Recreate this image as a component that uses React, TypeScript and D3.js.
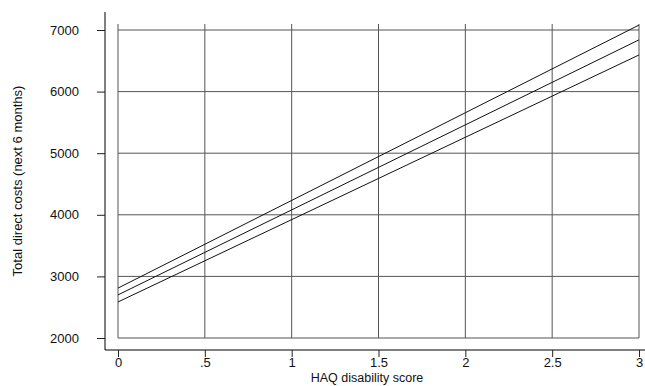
import { useEffect, useRef } from 'react';
import * as d3 from 'd3';

const xTicks = [0, 0.5, 1, 1.5, 2, 2.5, 3];
const xTickLabels = ["0", ".5", "1", "1.5", "2", "2.5", "3"];
const yTicks = [2000, 3000, 4000, 5000, 6000, 7000];

// fitted line and its confidence band at HAQ 0 and 3
const haq = [0, 3];
const upperBand = [2810, 7080];
const fitted = [2700, 6840];
const lowerBand = [2585, 6595];

export default function App() {
    const svgRef = useRef<SVGSVGElement>(null);

    useEffect(() => {
        const width = 645;
        const height = 386;
        const svg = d3.select(svgRef.current);
        svg.selectAll("*").remove();
        svg.attr("width", width).attr("height", height);

        const xScale = d3.scaleLinear().domain([0, 3]).range([118, 639]);
        const yScale = d3.scaleLinear().domain([2000, 7000]).range([338, 30]);
        const font = "'Liberation Sans', Arial, sans-serif";
        const gridColor = "#555";

        // Grid vertical
        svg.append("g")
            .selectAll("line")
            .data(xTicks)
            .enter().append("line")
            .attr("x1", d => xScale(d))
            .attr("x2", d => xScale(d))
            .attr("y1", 24)
            .attr("y2", yScale(2000))
            .attr("stroke", gridColor)
            .attr("stroke-width", 1);

        // Grid horizontal
        svg.append("g")
            .selectAll("line")
            .data(yTicks)
            .enter().append("line")
            .attr("x1", xScale(0))
            .attr("x2", xScale(3))
            .attr("y1", d => yScale(d))
            .attr("y2", d => yScale(d))
            .attr("stroke", gridColor)
            .attr("stroke-width", 1);

        // Linhas
        const series = [upperBand, fitted, lowerBand];
        const line = d3.line<number>()
            .x((_, i) => xScale(haq[i]))
            .y(d => yScale(d));
        svg.append("g")
            .selectAll("path")
            .data(series)
            .enter().append("path")
            .attr("fill", "none")
            .attr("stroke", "#111")
            .attr("stroke-width", 1)
            .attr("d", d => line(d));

        // Eixo Y
        const yAxis = svg.append("g")
            .attr("transform", "translate(105,0)")
            .call(d3.axisLeft(yScale).tickValues(yTicks).tickSize(8).tickPadding(18).tickFormat(d3.format("d")));
        yAxis.select(".domain").attr("d", "M0,12V350");
        yAxis.selectAll("line").attr("stroke", "#222");
        yAxis.selectAll("text")
            .style("font-family", font)
            .style("font-size", "13px")
            .style("fill", "#111");

        // Eixo X
        const xAxis = svg.append("g")
            .attr("transform", "translate(0,350)")
            .call(d3.axisBottom(xScale).tickValues(xTicks).tickSize(7).tickPadding(1)
                .tickFormat((_, i) => xTickLabels[i]));
        xAxis.select(".domain").attr("d", "M105,0H645");
        xAxis.selectAll("line").attr("stroke", "#222");
        xAxis.selectAll("text")
            .style("font-family", font)
            .style("font-size", "13px")
            .style("fill", "#111");

        // Labels dos eixos
        svg.append("text")
            .attr("transform", "rotate(-90)")
            .attr("x", -((24 + 338) / 2))
            .attr("y", 22)
            .style("text-anchor", "middle")
            .style("font-family", font)
            .style("font-size", "13px")
            .style("fill", "#111")
            .text("Total direct costs (next 6 months)");

        svg.append("text")
            .attr("x", 367)
            .attr("y", 382)
            .style("text-anchor", "middle")
            .style("font-family", font)
            .style("font-size", "12.5px")
            .style("fill", "#111")
            .text("HAQ disability score");
    }, []);

    return <svg ref={svgRef} style={{ position: "absolute", left: 0, top: 0, background: "#fff" }}></svg>;
}
